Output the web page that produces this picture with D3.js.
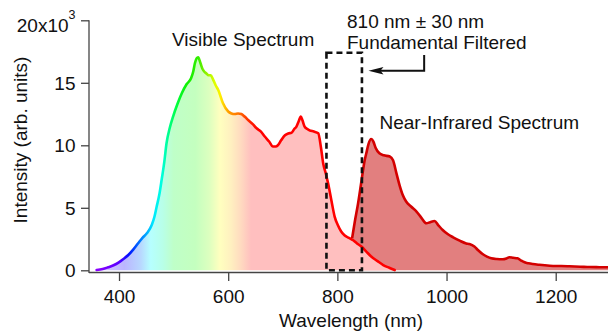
<!DOCTYPE html>
<html><head><meta charset="utf-8">
<script src="https://cdn.jsdelivr.net/npm/d3@7"></script>
<style>
html,body{margin:0;padding:0;background:#fff;}
svg{display:block;font-family:"Liberation Sans",Arial,Helvetica,sans-serif;}
</style></head>
<body>
<svg id="chart" width="608" height="335"></svg>
<script>
// ---- data ----
const visibleSpectrum = [[359,0.02],[370,0.1],[380,0.24],[390,0.4],[399,0.61],[408,0.9],[417,1.22],[426,1.65],[435,2.16],[443,2.6],[451,2.96],[460,3.62],[465,4.3],[469,5.1],[474,6.1],[478,7.22],[483,8.7],[487,10.16],[493,11.4],[499,12.3],[507,13.3],[515,14.16],[524,14.9],[532,15.36],[536,15.9],[539,16.56],[542,16.95],[545,17.04],[549,16.6],[553,16.1],[556,15.9],[560,15.75],[564,15.6],[568,15.6],[572,15.3],[577,14.8],[582,14.4],[590,13.4],[600,12.7],[606,12.55],[612,12.5],[618,12.55],[624,12.5],[630,12.3],[637,12.0],[645,11.7],[652,11.36],[660,11.1],[667,10.7],[675,10.3],[682,9.9],[687,9.9],[691,10.0],[697,10.4],[704,10.8],[710,10.95],[716,11.0],[721,11.3],[725,11.5],[729,11.9],[733,12.3],[736,12.0],[740,11.5],[745,11.3],[749,11.2],[757,11.1],[765,10.96],[770,9.8],[774,8.56],[779,7.7],[783,6.96],[789,5.6],[795,4.3],[801,3.6],[807,3.1],[813,2.8],[821,2.6],[829,2.4],[836,2.15],[844,1.9],[853,1.5],[862,1.1],[873,0.75],[884,0.42],[895,0.2],[905,0.02]];
const nirSpectrum = [[827,2.56],[832,3.9],[838,5.36],[843,6.8],[847,8.0],[850,8.8],[853,9.36],[857,10.1],[862,10.5],[866,10.3],[870,9.8],[877,9.36],[885,9.2],[896,9.1],[902,8.8],[908,7.8],[914,6.8],[920,6.0],[926,5.5],[935,5.1],[945,4.7],[954,4.2],[963,3.76],[970,3.85],[978,3.94],[985,3.6],[993,3.22],[1002,2.9],[1012,2.64],[1024,2.37],[1036,2.15],[1042,2.1],[1051,1.9],[1058,1.6],[1066,1.3],[1074,1.1],[1082,0.96],[1092,0.9],[1103,0.88],[1110,0.95],[1115,1.04],[1122,1.0],[1130,0.96],[1136,0.8],[1143,0.64],[1150,0.56],[1158,0.5],[1170,0.44],[1189,0.37],[1210,0.34],[1225,0.32],[1245,0.29],[1262,0.26],[1280,0.25],[1300,0.24]];
const xTicks = [400,600,800,1000,1200];
const yTicks = [0,5,10,15,20];
const filterBand = [780,845];      // nm
const filterTop = 17.4;            // x10^3
const arrowPath = [[959,17.22],[959,15.97],[857,15.97]]; // nm, x10^3
const labels = {
  xTitle: "Wavelength (nm)",
  yTitle: "Intensity (arb. units)",
  visible: "Visible Spectrum",
  nir: "Near-Infrared Spectrum",
  filter1: "810 nm \u00b1 30 nm",
  filter2: "Fundamental Filtered"
};
// colour stops (styling)
const strokeStops = [[360,"#8a00ff"],[400,"#5a00ff"],[418,"#0010ff"],[435,"#0066ff"],[450,"#00aaff"],[462,"#00e6ff"],[478,"#00ffe0"],[490,"#00ff90"],[505,"#00ff40"],[525,"#10f000"],[545,"#33ee00"],[558,"#88f000"],[575,"#ddff00"],[586,"#ffee00"],[600,"#ffa000"],[620,"#ff7000"],[640,"#ff2000"],[655,"#ff0000"],[905,"#ff0000"]];
const fillStops = [[360,"#d6c8ff"],[410,"#bbb6ff"],[440,"#b8d8ff"],[458,"#b6ffff"],[480,"#b8ffe8"],[500,"#bfffc8"],[540,"#c4ffbf"],[565,"#dcffbf"],[585,"#ffffbf"],[605,"#fff0c0"],[622,"#ffdcc0"],[642,"#ffbfbf"],[905,"#ffbfbf"]];

// ---- scales ----
const svg = d3.select("#chart");
const x = d3.scaleLinear().domain([345,1300]).range([89,610.3]);
const y = d3.scaleLinear().domain([0,20]).range([270.3,20.3]);
const axisY = 272.5, axisX = 89;
const FS = 19;

// gradients
const defs = svg.append("defs");
function grad(id, stops){
  const x1 = x(stops[0][0]), x2 = x(stops[stops.length-1][0]);
  const g = defs.append("linearGradient").attr("id",id)
    .attr("gradientUnits","userSpaceOnUse")
    .attr("x1",x1).attr("x2",x2).attr("y1",0).attr("y2",0);
  stops.forEach(s=>g.append("stop").attr("offset",(x(s[0])-x1)/(x2-x1)).attr("stop-color",s[1]));
}
grad("visStroke", strokeStops);
grad("visFill", fillStops);

const area = d3.area().x(d=>x(d[0])).y0(y(0)).y1(d=>y(d[1])).curve(d3.curveMonotoneX);
const line = d3.line().x(d=>x(d[0])).y(d=>y(d[1])).curve(d3.curveMonotoneX);

svg.append("clipPath").attr("id","plotclip").append("rect")
  .attr("x",axisX).attr("y",0).attr("width",608-axisX).attr("height",axisY);
const plot = svg.append("g").attr("clip-path","url(#plotclip)");

// NIR
plot.append("path").datum(nirSpectrum).attr("d",area).attr("fill","#e27f7f");
plot.append("path").datum(nirSpectrum).attr("d",line).attr("fill","none")
  .attr("stroke","#d40000").attr("stroke-width",2.6).attr("stroke-linejoin","round");
// Visible
plot.append("path").datum(visibleSpectrum).attr("d",area).attr("fill","url(#visFill)");
plot.append("path").datum(visibleSpectrum).attr("d",line).attr("fill","none")
  .attr("stroke","url(#visStroke)").attr("stroke-width",2.6).attr("stroke-linejoin","round").attr("stroke-linecap","round");

// filter box
svg.append("rect")
  .attr("x",x(filterBand[0])).attr("y",y(filterTop))
  .attr("width",x(filterBand[1])-x(filterBand[0])).attr("height",y(0)-y(filterTop))
  .attr("fill","none").attr("stroke","#111").attr("stroke-width",2.6)
  .attr("stroke-dasharray","6,4");

// arrow
svg.append("path").attr("d",d3.line().x(d=>x(d[0])).y(d=>y(d[1]))(arrowPath.slice(0,2).concat([[arrowPath[2][0]+12,arrowPath[2][1]]])))
  .attr("fill","none").attr("stroke","#111").attr("stroke-width",2);
{
  const tx = x(arrowPath[2][0]), ty = y(arrowPath[2][1]);
  svg.append("path").attr("d",`M${tx},${ty}L${tx+15},${ty-3.8}L${tx+12},${ty}L${tx+15},${ty+3.8}Z`).attr("fill","#111");
}

// axes
const ax = svg.append("g").attr("stroke","#444").attr("stroke-width",1.3);
ax.append("line").attr("x1",axisX).attr("x2",axisX).attr("y1",y(20)).attr("y2",axisY+0.6);
ax.append("line").attr("x1",axisX).attr("x2",608).attr("y1",axisY).attr("y2",axisY);

const xAxis = d3.axisBottom(x).tickValues(xTicks).tickSize(8.5).tickPadding(9).tickSizeOuter(0)
  .tickFormat(d3.format("d"));
const gx = svg.append("g").attr("transform",`translate(0,${axisY})`).call(xAxis);
gx.select(".domain").remove();
gx.selectAll(".tick line").attr("stroke","#444").attr("stroke-width",1.3);
gx.selectAll(".tick text").attr("font-size",FS).attr("fill","#111").attr("font-family","Liberation Sans, Arial, sans-serif");

const yAxis = d3.axisLeft(y).tickValues(yTicks).tickSize(8).tickPadding(5.5).tickSizeOuter(0)
  .tickFormat(d=> d===20 ? "" : d);
const gy = svg.append("g").attr("transform",`translate(${axisX},0)`).call(yAxis);
gy.select(".domain").remove();
gy.selectAll(".tick line").attr("stroke","#444").attr("stroke-width",1.3);
gy.selectAll(".tick text").attr("font-size",FS).attr("fill","#111").attr("dy","0.34em").attr("font-family","Liberation Sans, Arial, sans-serif");
// 20x10^3 label
{
  const t = gy.selectAll(".tick").filter(d=>d===20).select("text")
    .attr("dy",null).attr("y",11);
  t.append("tspan").text("20x10");
  t.append("tspan").text("3").attr("font-size",12.5).attr("dy",-12.5);
  t.attr("x",-13.5);
}

// titles
const txt = (s,xx,yy,anchor)=>svg.append("text").attr("x",xx).attr("y",yy)
  .attr("font-size",FS).attr("fill","#111").attr("text-anchor",anchor||"start").text(s);
txt(labels.xTitle, 351, 327, "middle");
svg.append("text").attr("transform","translate(26.5,140) rotate(-90)")
  .attr("font-size",FS).attr("fill","#111").attr("text-anchor","middle").text(labels.yTitle);
txt(labels.visible, 172, 46);
txt(labels.nir, 379.5, 128.5);
txt(labels.filter1, 347, 27.5);
txt(labels.filter2, 347, 48.5);
</script>
</body></html>
